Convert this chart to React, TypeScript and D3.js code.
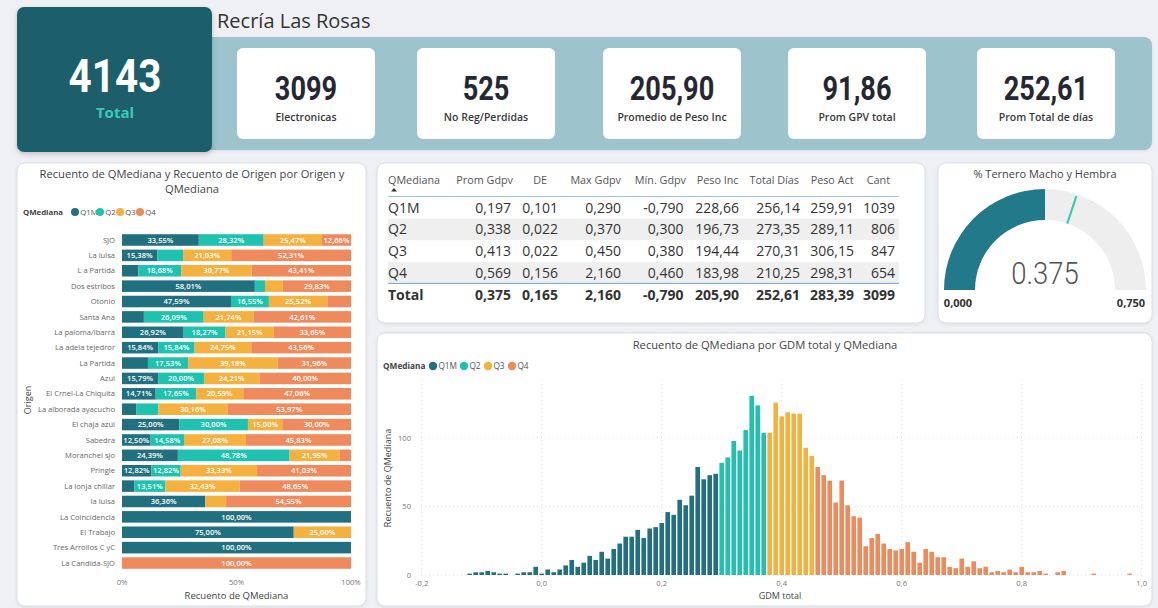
import React from "react";
import * as d3 from "d3";

// ---------------- DATA ----------------
const dashboardTitle = "Recría Las Rosas";
const totalValue = "4143";
const totalLabel = "Total";
const kpiValues = ["3099", "525", "205,90", "91,86", "252,61"];
const kpiLabels = ["Electronicas", "No Reg/Perdidas", "Promedio de Peso Inc", "Prom GPV total", "Prom Total de días"];

const quartiles = ["Q1M", "Q2", "Q3", "Q4"];

const origins = [
  "SJO", "La luisa", "L a Partida", "Dos estribos", "Otonio", "Santa Ana", "La paloma/ibarra",
  "La adela tejedror", "La Partida", "Azul", "El Crnel-La Chiquita", "La alborada ayacucho",
  "El chaja azul", "Sabedra", "Moranchel sjo", "Pringle", "La lonja chillar", "la luisa",
  "La Coincidencia", "El Trabajo", "Tres Arrollos C yC", "La Candida-SJO",
];
const q1mPct = [33.55, 15.38, 7.14, 58.01, 47.59, 9.56, 26.92, 15.84, 11.33, 15.79, 14.71, 6.35, 25.0, 12.5, 24.39, 12.82, 5.41, 36.36, 100, 75, 100, 0];
const q2Pct = [28.32, 11.28, 18.68, 4.42, 16.55, 26.09, 18.27, 15.84, 17.53, 20.0, 17.65, 9.52, 30.0, 14.58, 48.78, 12.82, 13.51, 0, 0, 0, 0, 0];
const q3Pct = [25.47, 21.03, 30.77, 7.74, 25.52, 21.74, 21.15, 24.75, 39.18, 24.21, 20.59, 30.16, 15.0, 27.08, 21.95, 33.33, 32.43, 9.09, 0, 25, 0, 0];
const q4Pct = [12.66, 52.31, 43.41, 29.83, 10.34, 42.61, 33.65, 43.56, 31.96, 40.0, 47.06, 53.97, 30.0, 45.83, 4.88, 41.03, 48.65, 54.55, 0, 0, 0, 100];

const tableHeaders = ["QMediana", "Prom Gdpv", "DE", "Max Gdpv", "Mín. Gdpv", "Peso Inc", "Total Días", "Peso Act", "Cant"];
const tableRows = [
  ["Q1M", "0,197", "0,101", "0,290", "-0,790", "228,66", "256,14", "259,91", "1039"],
  ["Q2", "0,338", "0,022", "0,370", "0,300", "196,73", "273,35", "289,11", "806"],
  ["Q3", "0,413", "0,022", "0,450", "0,380", "194,44", "270,31", "306,15", "847"],
  ["Q4", "0,569", "0,156", "2,160", "0,460", "183,98", "210,25", "298,31", "654"],
];
const tableTotal = ["Total", "0,375", "0,165", "2,160", "-0,790", "205,90", "252,61", "283,39", "3099"];

const gaugeTitle = "% Ternero Macho y Hembra";
const gaugeValue = 0.375;
const gaugeMin = 0;
const gaugeMax = 0.75;
const gaugeTarget = 0.452;

const q1mGdm = [-0.12, -0.11, -0.1, -0.09, -0.08, -0.07, -0.06, -0.04, -0.03, -0.02, -0.01, 0.0, 0.01, 0.02, 0.03, 0.04, 0.05, 0.06, 0.07, 0.08, 0.09, 0.1, 0.11, 0.12, 0.13, 0.14, 0.15, 0.16, 0.17, 0.18, 0.19, 0.2, 0.21, 0.22, 0.23, 0.24, 0.25, 0.26, 0.27, 0.28, 0.29];
const q1mCount = [1, 2, 2, 3, 2, 1, 1, 1, 2, 2, 6, 1, 4, 2, 4, 7, 11, 6, 9, 14, 11, 17, 12, 19, 23, 28, 28, 33, 27, 34, 35, 38, 46, 44, 55, 51, 58, 79, 70, 73, 74];
const q2Gdm = [0.3, 0.31, 0.32, 0.33, 0.34, 0.35, 0.36, 0.37];
const q2Count = [82, 86, 98, 91, 106, 131, 124, 104];
const q3Gdm = [0.38, 0.39, 0.4, 0.41, 0.42, 0.43, 0.44, 0.45];
const q3Count = [104, 126, 116, 119, 118, 118, 93, 87];
const q4Gdm = [0.46, 0.47, 0.48, 0.49, 0.5, 0.51, 0.52, 0.53, 0.54, 0.55, 0.56, 0.57, 0.58, 0.59, 0.6, 0.61, 0.62, 0.63, 0.64, 0.65, 0.66, 0.67, 0.68, 0.69, 0.7, 0.71, 0.72, 0.73, 0.74, 0.75, 0.76, 0.77, 0.78, 0.79, 0.8, 0.81, 0.82, 0.83, 0.84, 0.86, 0.87, 0.92, 0.98];
const q4Count = [79, 73, 69, 53, 69, 51, 43, 42, 21, 27, 30, 23, 19, 18, 19, 24, 17, 9, 19, 17, 13, 13, 6, 5, 12, 6, 10, 5, 6, 2, 3, 2, 4, 2, 6, 2, 2, 3, 1, 2, 3, 1, 1];

const histXTicks = [-0.2, 0, 0.2, 0.4, 0.6, 0.8, 1.0];
const histYTicks = [0, 50, 100];
const pctTicks = [0, 50, 100];

// ---------------- STYLE ----------------
const COLORS: Record<string, string> = { Q1M: "#21707F", Q2: "#1FC2AE", Q3: "#F4B13F", Q4: "#EE8A5B" };
const FONT = "'Segoe UI', 'Open Sans', 'Noto Sans', sans-serif";
const NUMFONT = "'Roboto', 'DejaVu Sans', sans-serif";

function fmtComma(v: number, d: number): string {
  return d3.format(`.${d}f`)(v).replace(".", ",").replace("−", "-");
}

function Panel(props: { x: number; y: number; w: number; h: number }) {
  return (
    <rect x={props.x} y={props.y} width={props.w} height={props.h} rx={8} fill="#ffffff" stroke="#d9dde7" strokeWidth={1} filter="url(#shadow)" />
  );
}

function Legend(props: { x: number; y: number; fs: number; offsets: number[]; r: number }) {
  const { x, y, fs, offsets, r } = props;
  return (
    <g fontFamily={FONT}>
      <text x={x} y={y} dy="0.35em" fontSize={fs} fontWeight={700} fill="#444">QMediana</text>
      {quartiles.map((q, i) => (
        <g key={q}>
          <circle cx={x + offsets[i]} cy={y} r={r} fill={COLORS[q]} />
          <text x={x + offsets[i] + r + 1.2} y={y} dy="0.35em" fontSize={fs} fill="#555">{q}</text>
        </g>
      ))}
    </g>
  );
}

function StackedChart() {
  const y = d3.scaleBand<string>().domain(origins).range([232.3, 570.7]).paddingInner(0.25).paddingOuter(0.125);
  const x = d3.scaleLinear().domain([0, 100]).range([122, 351]);
  const stackData = origins.map((o, i) => ({ origin: o, Q1M: q1mPct[i], Q2: q2Pct[i], Q3: q3Pct[i], Q4: q4Pct[i] }));
  const stacked = d3.stack<any>().keys(quartiles)(stackData);
  const bh = y.bandwidth();
  return (
    <g fontFamily={FONT}>
      <Panel x={17} y={163} w={349} h={443} />
      <text x={192} y={178} textAnchor="middle" fontSize={11.2} fill="#444">Recuento de QMediana y Recuento de Origen por Origen y</text>
      <text x={192} y={193} textAnchor="middle" fontSize={11.2} fill="#444">QMediana</text>
      <Legend x={23} y={212} fs={7.8} offsets={[52, 77, 97, 117]} r={4} />
      {origins.map((o) => (
        <text key={o} x={115} y={(y(o) as number) + bh / 2} dy="0.35em" textAnchor="end" fontSize={7.6} fill="#666">{o}</text>
      ))}
      {stacked.map((s) => (
        <g key={s.key}>
          {s.map((d, i) => {
            const w = x(d[1]) - x(d[0]);
            if (w <= 0) return null;
            const pct = d[1] - d[0];
            const yy = y(origins[i]) as number;
            return (
              <g key={i}>
                <rect x={x(d[0])} y={yy} width={w} height={bh} fill={COLORS[s.key]} />
                {pct >= 12 && (
                  <text x={x(d[0]) + w / 2} y={yy + bh / 2} dy="0.35em" textAnchor="middle" fontSize={7.6} fontWeight={600} fill="#ffffff">
                    {fmtComma(pct, 2) + "%"}
                  </text>
                )}
              </g>
            );
          })}
        </g>
      ))}
      {pctTicks.map((t) => (
        <text key={t} x={x(t)} y={585} textAnchor="middle" fontSize={7.6} fill="#777">{t + "%"}</text>
      ))}
      <text x={236.5} y={599} textAnchor="middle" fontSize={9.5} fill="#444">Recuento de QMediana</text>
      <text transform="translate(31,400) rotate(-90)" textAnchor="middle" fontSize={9} fill="#444">Origen</text>
    </g>
  );
}

function DataTable() {
  const headerEnds = [388, 513, 547, 621, 686, 738.5, 799, 853.5, 890];
  const valueEnds = [388, 511, 558, 621, 683.5, 739, 800, 854, 895];
  const rowH = 21.6;
  const rowY = (i: number) => 197 + i * rowH;
  return (
    <g fontFamily={FONT}>
      <Panel x={377} y={163} w={548} h={160} />
      {tableHeaders.map((h, i) => (
        <text key={h} x={headerEnds[i]} y={184} textAnchor={i === 0 ? "start" : "end"} fontSize={10.8} fill="#555">{h}</text>
      ))}
      <path d="M391,191.5 l3,-3.5 l3,3.5 z" fill="#333" />
      {tableRows.map((r, ri) => (
        <g key={ri}>
          {ri % 2 === 1 && <rect x={388} y={rowY(ri)} width={511} height={rowH} fill="#efefef" />}
          {r.map((c, ci) => (
            <text key={ci} x={valueEnds[ci]} y={rowY(ri) + rowH / 2} dy="0.36em" textAnchor={ci === 0 ? "start" : "end"} fontSize={14} fill="#333">{c}</text>
          ))}
        </g>
      ))}
      <line x1={388} x2={899} y1={196.5} y2={196.5} stroke="#9cc3e0" strokeWidth={1} />
      <line x1={388} x2={899} y1={rowY(4)} y2={rowY(4)} stroke="#6ea7d6" strokeWidth={1} />
      {tableTotal.map((c, ci) => (
        <text key={ci} x={valueEnds[ci]} y={rowY(4) + 11.5} dy="0.36em" textAnchor={ci === 0 ? "start" : "end"} fontSize={14} fontWeight={700} fill="#333">{c}</text>
      ))}
    </g>
  );
}

function Gauge() {
  const cx = 1045;
  const cy = 290;
  const ro = 101;
  const ri = 70;
  const a = d3.scaleLinear().domain([gaugeMin, gaugeMax]).range([-Math.PI / 2, Math.PI / 2]);
  const arc = d3.arc<any>().innerRadius(ri).outerRadius(ro);
  const bg = arc({ startAngle: a(gaugeMin), endAngle: a(gaugeMax) }) || "";
  const fg = arc({ startAngle: a(gaugeMin), endAngle: a(gaugeValue) }) || "";
  const ta = a(gaugeTarget);
  return (
    <g fontFamily={FONT}>
      <Panel x={938} y={163} w={214} h={160} />
      <text x={1045} y={178} textAnchor="middle" fontSize={11} fill="#444">{gaugeTitle}</text>
      <g transform={`translate(${cx},${cy})`}>
        <path d={bg} fill="#efeeee" />
        <path d={fg} fill="#22798A" />
        <line x1={Math.sin(ta) * ri} y1={-Math.cos(ta) * ri} x2={Math.sin(ta) * (ro - 2)} y2={-Math.cos(ta) * (ro - 2)} stroke="#2fc9b5" strokeWidth={2} />
      </g>
      <text transform="translate(1045,284) scale(0.86,1)" textAnchor="middle" fontSize={32} fontWeight={300} fontFamily="'Roboto', 'DejaVu Sans', sans-serif" fill="#555">{String(gaugeValue)}</text>
      <text x={958} y={307} textAnchor="middle" fontSize={11} fontWeight={700} fill="#333">{fmtComma(gaugeMin, 3)}</text>
      <text x={1131} y={307} textAnchor="middle" fontSize={11} fontWeight={700} fill="#333">{fmtComma(gaugeMax, 3)}</text>
    </g>
  );
}

function Histogram() {
  const x = d3.scaleLinear().domain([-0.2, 1.0]).range([421.7, 1141.7]);
  const y = d3.scaleLinear().domain([0, 142.6]).range([575, 380]);
  const bw = 4.6;
  const sets = [
    { q: "Q1M", xs: q1mGdm, cs: q1mCount },
    { q: "Q2", xs: q2Gdm, cs: q2Count },
    { q: "Q3", xs: q3Gdm, cs: q3Count },
    { q: "Q4", xs: q4Gdm, cs: q4Count },
  ];
  return (
    <g fontFamily={FONT}>
      <Panel x={377} y={333} w={775} h={273} />
      <text x={765} y={349} textAnchor="middle" fontSize={11.2} fill="#444">Recuento de QMediana por GDM total y QMediana</text>
      <Legend x={383} y={366} fs={8.3} offsets={[50, 81, 105, 129]} r={4.2} />
      {histYTicks.map((t) => (
        <g key={"y" + t}>
          <line x1={421} x2={1142} y1={y(t)} y2={y(t)} stroke="#dcdcdc" strokeDasharray="1,3" />
          <text x={411} y={y(t)} dy="0.35em" textAnchor="end" fontSize={7.6} fill="#777">{String(t)}</text>
        </g>
      ))}
      {histXTicks.map((t) => (
        <g key={"x" + t}>
          <line x1={x(t)} x2={x(t)} y1={380} y2={575} stroke="#dcdcdc" strokeDasharray="1,3" />
          <text x={x(t)} y={586} textAnchor="middle" fontSize={7.6} fill="#777">{fmtComma(t, 1)}</text>
        </g>
      ))}
      {sets.map((s) =>
        s.xs.map((v, i) => (
          <rect key={s.q + i} x={x(v) - bw / 2} y={y(s.cs[i])} width={bw} height={y(0) - y(s.cs[i])} fill={COLORS[s.q]} />
        ))
      )}
      <text x={780} y={599} textAnchor="middle" fontSize={9} fill="#444">GDM total</text>
      <text transform="translate(391,478) rotate(-90)" textAnchor="middle" fontSize={9} fill="#444">Recuento de QMediana</text>
    </g>
  );
}

function KpiHeader() {
  const cardX = [237, 417, 603, 788, 977];
  const cardW = 138;
  return (
    <g>
      <text x={217} y={28} fontFamily={FONT} fontSize={20} fill="#333">{dashboardTitle}</text>
      <rect x={200} y={37} width={952} height={113} rx={8} fill="#9DC3CD" filter="url(#shadow)" />
      <rect x={17} y={7} width={195} height={145} rx={7} fill="#1D5F6B" filter="url(#shadow2)" />
      <text transform="translate(115,92) scale(0.86,1)" textAnchor="middle" fontFamily={NUMFONT} fontWeight={700} fontSize={47} fill="#ffffff">{totalValue}</text>
      <text x={115} y={118} textAnchor="middle" fontFamily={FONT} fontWeight={700} fontSize={15} fill="#3CC8B5">{totalLabel}</text>
      {kpiValues.map((v, i) => (
        <g key={i}>
          <rect x={cardX[i]} y={48} width={cardW} height={91} rx={6} fill="#ffffff" />
          <text transform={`translate(${cardX[i] + cardW / 2},100) scale(0.81,1)`} textAnchor="middle" fontFamily={NUMFONT} fontWeight={700} fontSize={33.5} fill="#252833">{v}</text>
          <text x={cardX[i] + cardW / 2} y={121} textAnchor="middle" fontFamily={FONT} fontWeight={600} fontSize={10.5} fill="#3a3a3a">{kpiLabels[i]}</text>
        </g>
      ))}
    </g>
  );
}

export default function App() {
  const width = 1158;
  const height = 608;
  return (
    <div style={{ position: "fixed", left: 0, top: 0, width: width, height: height, background: "#eff0f4" }}>
      <svg width={width} height={height} viewBox={`0 0 ${width} ${height}`} style={{ display: "block" }}>
        <defs>
          <filter id="shadow" x="-5%" y="-5%" width="110%" height="115%">
            <feDropShadow dx="0" dy="1" stdDeviation="1.5" floodColor="#000" floodOpacity="0.08" />
          </filter>
          <filter id="shadow2" x="-10%" y="-10%" width="120%" height="125%">
            <feDropShadow dx="0" dy="2" stdDeviation="2.5" floodColor="#000" floodOpacity="0.2" />
          </filter>
        </defs>
        <rect width={width} height={height} fill="#eff0f4" />
        <KpiHeader />
        <StackedChart />
        <DataTable />
        <Gauge />
        <Histogram />
      </svg>
    </div>
  );
}
